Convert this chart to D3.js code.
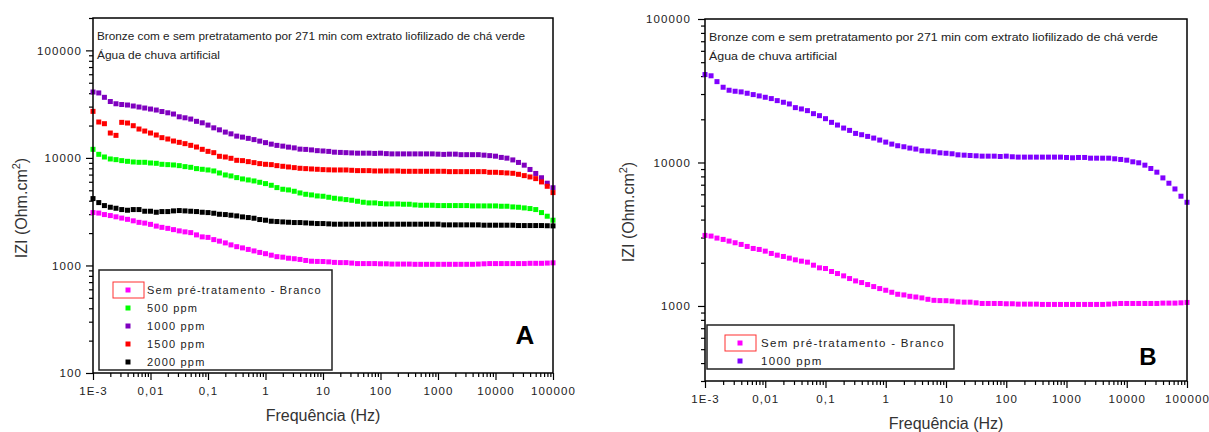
<!DOCTYPE html>
<html>
<head>
<meta charset="utf-8">
<script src="https://cdn.jsdelivr.net/npm/d3@7"></script>
<style>
  body { margin: 0; background: #fff; }
  text { font-family: Arial, "Liberation Sans", sans-serif; }
</style>
</head>
<body>
<div id="chart"></div>
<script>
// frequencies (Hz), 10 points per decade
var freq = [0.001,0.00126,0.00158,0.002,0.00251,0.00316,0.00398,0.00501,0.00631,0.00794,
  0.01,0.0126,0.0158,0.02,0.0251,0.0316,0.0398,0.0501,0.0631,0.0794,
  0.1,0.126,0.158,0.2,0.251,0.316,0.398,0.501,0.631,0.794,
  1,1.26,1.58,2,2.51,3.16,3.98,5.01,6.31,7.94,
  10,12.6,15.8,20,25.1,31.6,39.8,50.1,63.1,79.4,
  100,126,158,200,251,316,398,501,631,794,
  1000,1260,1580,2000,2510,3160,3980,5010,6310,7940,
  10000,12600,15800,20000,25100,31600,39800,50100,63100,79400,100000];

// |Z| (Ohm.cm2)
var zBranco = [3103,3070,2973,2910,2833,2758,2685,2600,2517,2477,
  2411,2323,2261,2213,2154,2097,2053,2020,1924,1844,
  1824,1739,1683,1621,1553,1495,1456,1410,1365,1322,
  1287,1246,1207,1194,1168,1155,1138,1113,1095,1090,
  1088,1080,1068,1063,1063,1052,1041,1041,1041,1041,
  1036,1036,1030,1030,1030,1030,1025,1025,1025,1025,
  1025,1025,1025,1025,1025,1025,1025,1030,1036,1041,
  1041,1041,1041,1041,1041,1041,1047,1047,1047,1052,1058];

var z500 = [12020,10800,10200,9775,9637,9434,9299,9168,9103,9103,
  8974,8911,8722,8660,8598,8476,8297,8179,7950,7838,
  7727,7563,7246,6942,6797,6559,6374,6239,6107,5935,
  5769,5566,5296,5112,5040,4897,4724,4592,4527,4430,
  4400,4307,4217,4157,4097,4040,3954,3870,3816,3816,
  3762,3735,3735,3735,3709,3709,3656,3630,3630,3630,
  3604,3604,3604,3604,3604,3604,3578,3578,3578,3578,
  3578,3553,3553,3503,3478,3428,3381,3309,3102,2870,2634];

var z1000 = [41000,40200,36600,33450,31880,31370,31040,30380,29730,29100,
  28480,27880,26990,26280,25590,24120,23610,22980,21890,21200,
  20200,19040,18240,17380,16740,15950,15610,15200,14800,14330,
  13870,13430,13080,12870,12600,12400,12070,12000,11870,11680,
  11600,11500,11310,11250,11190,11130,11070,11070,11070,11010,
  11070,10960,10900,10900,10900,10900,10900,10900,10900,10900,
  10840,10780,10840,10840,10720,10720,10720,10720,10610,10500,
  10380,10110,9950,9580,9080,8560,7810,7170,6540,5820,5280];

var z1500 = [27090,21570,20810,17040,16210,21410,21110,19930,18560,17780,
  17040,16330,15430,14990,14360,13960,13570,13090,12630,12020,
  11510,11190,10350,10200,9916,9500,9434,9235,9040,8850,
  8722,8660,8476,8356,8238,8123,8008,7950,7894,7838,
  7782,7750,7727,7727,7727,7672,7617,7617,7617,7563,
  7563,7563,7563,7563,7509,7509,7509,7509,7509,7509,
  7509,7509,7455,7455,7455,7455,7455,7455,7455,7350,
  7350,7298,7246,7194,7042,6845,6653,6420,5978,5448,4759];

var z2000 = [4186,3843,3604,3478,3404,3309,3262,3309,3309,3193,
  3193,3125,3170,3170,3216,3239,3216,3193,3170,3125,
  3102,3059,2994,2973,2931,2890,2828,2789,2749,2672,
  2634,2578,2560,2541,2523,2506,2506,2488,2470,2453,
  2453,2436,2419,2419,2419,2419,2419,2419,2419,2419,
  2419,2419,2419,2419,2419,2419,2419,2419,2419,2419,
  2419,2385,2385,2385,2385,2385,2385,2385,2368,2368,
  2368,2368,2368,2368,2350,2350,2350,2350,2350,2340,2333];

var seriesNames = ["Sem pré-tratamento - Branco", "500 ppm", "1000 ppm", "1500 ppm", "2000 ppm"];

var xTickValues = [0.001, 0.01, 0.1, 1, 10, 100, 1000, 10000, 100000];
var xTickLabels = ["1E-3", "0,01", "0,1", "1", "10", "100", "1000", "10000", "100000"];

var titleLine1 = "Bronze com e sem pretratamento por 271 min com extrato liofilizado de chá verde";
var titleLine2 = "Água de chuva artificial";

var svg = d3.select("#chart").append("svg")
    .attr("width", 1209)
    .attr("height", 432);

function draw_panel(p){
    var x = d3.scaleLog().domain([0.001, 100000]).range([p.left, p.right]);
    var y = d3.scaleLog().domain(p.yDomain).range([p.bottom, p.top]);

    var g = svg.append("g");

    // minor + major ticks on x
    var xMinor = x.ticks().filter(function(v){ return xTickValues.indexOf(v) < 0; });
    g.append("g")
        .attr("transform", "translate(0," + p.bottom + ")")
        .call(d3.axisBottom(x).tickValues(xMinor).tickSize(4).tickFormat(""))
        .call(function(a){ a.select(".domain").remove(); });
    var xa = g.append("g")
        .attr("transform", "translate(0," + p.bottom + ")")
        .call(d3.axisBottom(x).tickValues(xTickValues).tickSize(7)
            .tickFormat(function(d, i){ return xTickLabels[i]; }));
    xa.select(".domain").remove();
    xa.selectAll("text")
        .attr("font-size", 11.5)
        .attr("letter-spacing", 1.1)
        .attr("fill", "#222")
        .attr("dy", "1.05em");

    // y ticks
    var yMinor = y.ticks().filter(function(v){ return p.yMajor.indexOf(v) < 0; });
    g.append("g")
        .attr("transform", "translate(" + p.left + ",0)")
        .call(d3.axisLeft(y).tickValues(yMinor).tickSize(4).tickFormat(""))
        .call(function(a){ a.select(".domain").remove(); });
    var ya = g.append("g")
        .attr("transform", "translate(" + p.left + ",0)")
        .call(d3.axisLeft(y).tickValues(p.yMajor).tickSize(7).tickPadding(p.yPad)
            .tickFormat(d3.format("d")));
    ya.select(".domain").remove();
    ya.selectAll("text")
        .attr("font-size", 11.5)
        .attr("letter-spacing", 1.1)
        .attr("fill", "#222");
    g.selectAll(".tick line").attr("stroke", "#000").attr("stroke-width", 1.2);

    // data
    p.series.forEach(function(s){
        g.append("g").selectAll("rect")
            .data(s.values)
            .enter().append("rect")
            .attr("x", function(d, i){ return x(freq[i]) - 2.5; })
            .attr("y", function(d){ return y(d) - 2.5; })
            .attr("width", 5)
            .attr("height", 5)
            .attr("fill", s.color);
    });

    // frame
    g.append("rect")
        .attr("x", p.left).attr("y", p.top)
        .attr("width", p.right - p.left).attr("height", p.bottom - p.top)
        .attr("fill", "none").attr("stroke", "#000").attr("stroke-width", 1.5);

    // header text
    g.append("text").attr("x", p.left + 4).attr("y", p.top + 22)
        .attr("font-size", 11.5).attr("fill", "#222")
        .attr("textLength", p.t1Len).attr("lengthAdjust", "spacingAndGlyphs")
        .text(titleLine1);
    g.append("text").attr("x", p.left + 4).attr("y", p.top + 41)
        .attr("font-size", 11.5).attr("fill", "#222")
        .attr("textLength", p.t2Len).attr("lengthAdjust", "spacingAndGlyphs")
        .text(titleLine2);

    // axis titles
    g.append("text")
        .attr("x", (p.left + p.right) / 2).attr("y", p.bottom + 48)
        .attr("text-anchor", "middle").attr("font-size", 16).attr("fill", "#333")
        .text("Frequência (Hz)");
    var yt = g.append("text")
        .attr("transform", "translate(" + p.yTitleX + "," + p.yTitleY + ") rotate(-90)")
        .attr("text-anchor", "middle").attr("font-size", 16).attr("fill", "#333");
    yt.append("tspan").text("IZI (Ohm.cm");
    yt.append("tspan").attr("font-size", 11).attr("dy", -7).text("2");
    yt.append("tspan").attr("dy", 7).text(")");

    // legend
    var lg = p.legend;
    g.append("rect")
        .attr("x", lg.x).attr("y", lg.y).attr("width", lg.w).attr("height", lg.h)
        .attr("fill", "#fff").attr("stroke", "#222").attr("stroke-width", 1.5);
    g.append("rect")
        .attr("x", lg.symX - 15).attr("y", lg.rowY[0] - 8).attr("width", 31).attr("height", 16)
        .attr("fill", "none").attr("stroke", "#ff3030").attr("stroke-width", 1);
    p.series.forEach(function(s, i){
        g.append("rect")
            .attr("x", lg.symX - 2.5).attr("y", lg.rowY[i] - 2.5)
            .attr("width", 5).attr("height", 5).attr("fill", s.color);
        g.append("text")
            .attr("x", lg.textX).attr("y", lg.rowY[i]).attr("dy", "0.35em")
            .attr("font-size", lg.fs).attr("letter-spacing", lg.ls).attr("fill", "#222")
            .text(s.name);
    });

    // panel letter
    g.append("text")
        .attr("x", p.letterX).attr("y", p.letterY)
        .attr("text-anchor", "middle").attr("font-size", p.letterFs)
        .attr("font-weight", "bold").attr("fill", "#000")
        .text(p.letter);
}

draw_panel({
    left: 93, right: 553, top: 18, bottom: 373,
    yDomain: [100, 200000], yMajor: [100, 1000, 10000, 100000], yPad: 4,
    t1Len: 428, t2Len: 123,
    yTitleX: 27, yTitleY: 208,
    series: [
        {name: seriesNames[0], values: zBranco, color: "#ff00ff"},
        {name: seriesNames[1], values: z500, color: "#00ff00"},
        {name: seriesNames[2], values: z1000, color: "#7f00bf"},
        {name: seriesNames[3], values: z1500, color: "#ff0000"},
        {name: seriesNames[4], values: z2000, color: "#000000"}
    ],
    legend: {x: 99, y: 270, w: 233, h: 100, symX: 128, textX: 147,
             rowY: [290, 308, 326, 344, 362], fs: 11, ls: 1.2},
    letter: "A", letterX: 525, letterY: 344, letterFs: 26
});

draw_panel({
    left: 705, right: 1187, top: 19, bottom: 381,
    yDomain: [300, 100000], yMajor: [1000, 10000, 100000], yPad: 7,
    t1Len: 449, t2Len: 128,
    yTitleX: 634, yTitleY: 212,
    series: [
        {name: seriesNames[0], values: zBranco, color: "#ff00ff"},
        {name: seriesNames[2], values: z1000, color: "#8000ff"}
    ],
    legend: {x: 707, y: 325, w: 247, h: 44, symX: 740, textX: 761,
             rowY: [343, 361], fs: 11.5, ls: 1.3},
    letter: "B", letterX: 1148, letterY: 365, letterFs: 24
});
</script>
</body>
</html>
